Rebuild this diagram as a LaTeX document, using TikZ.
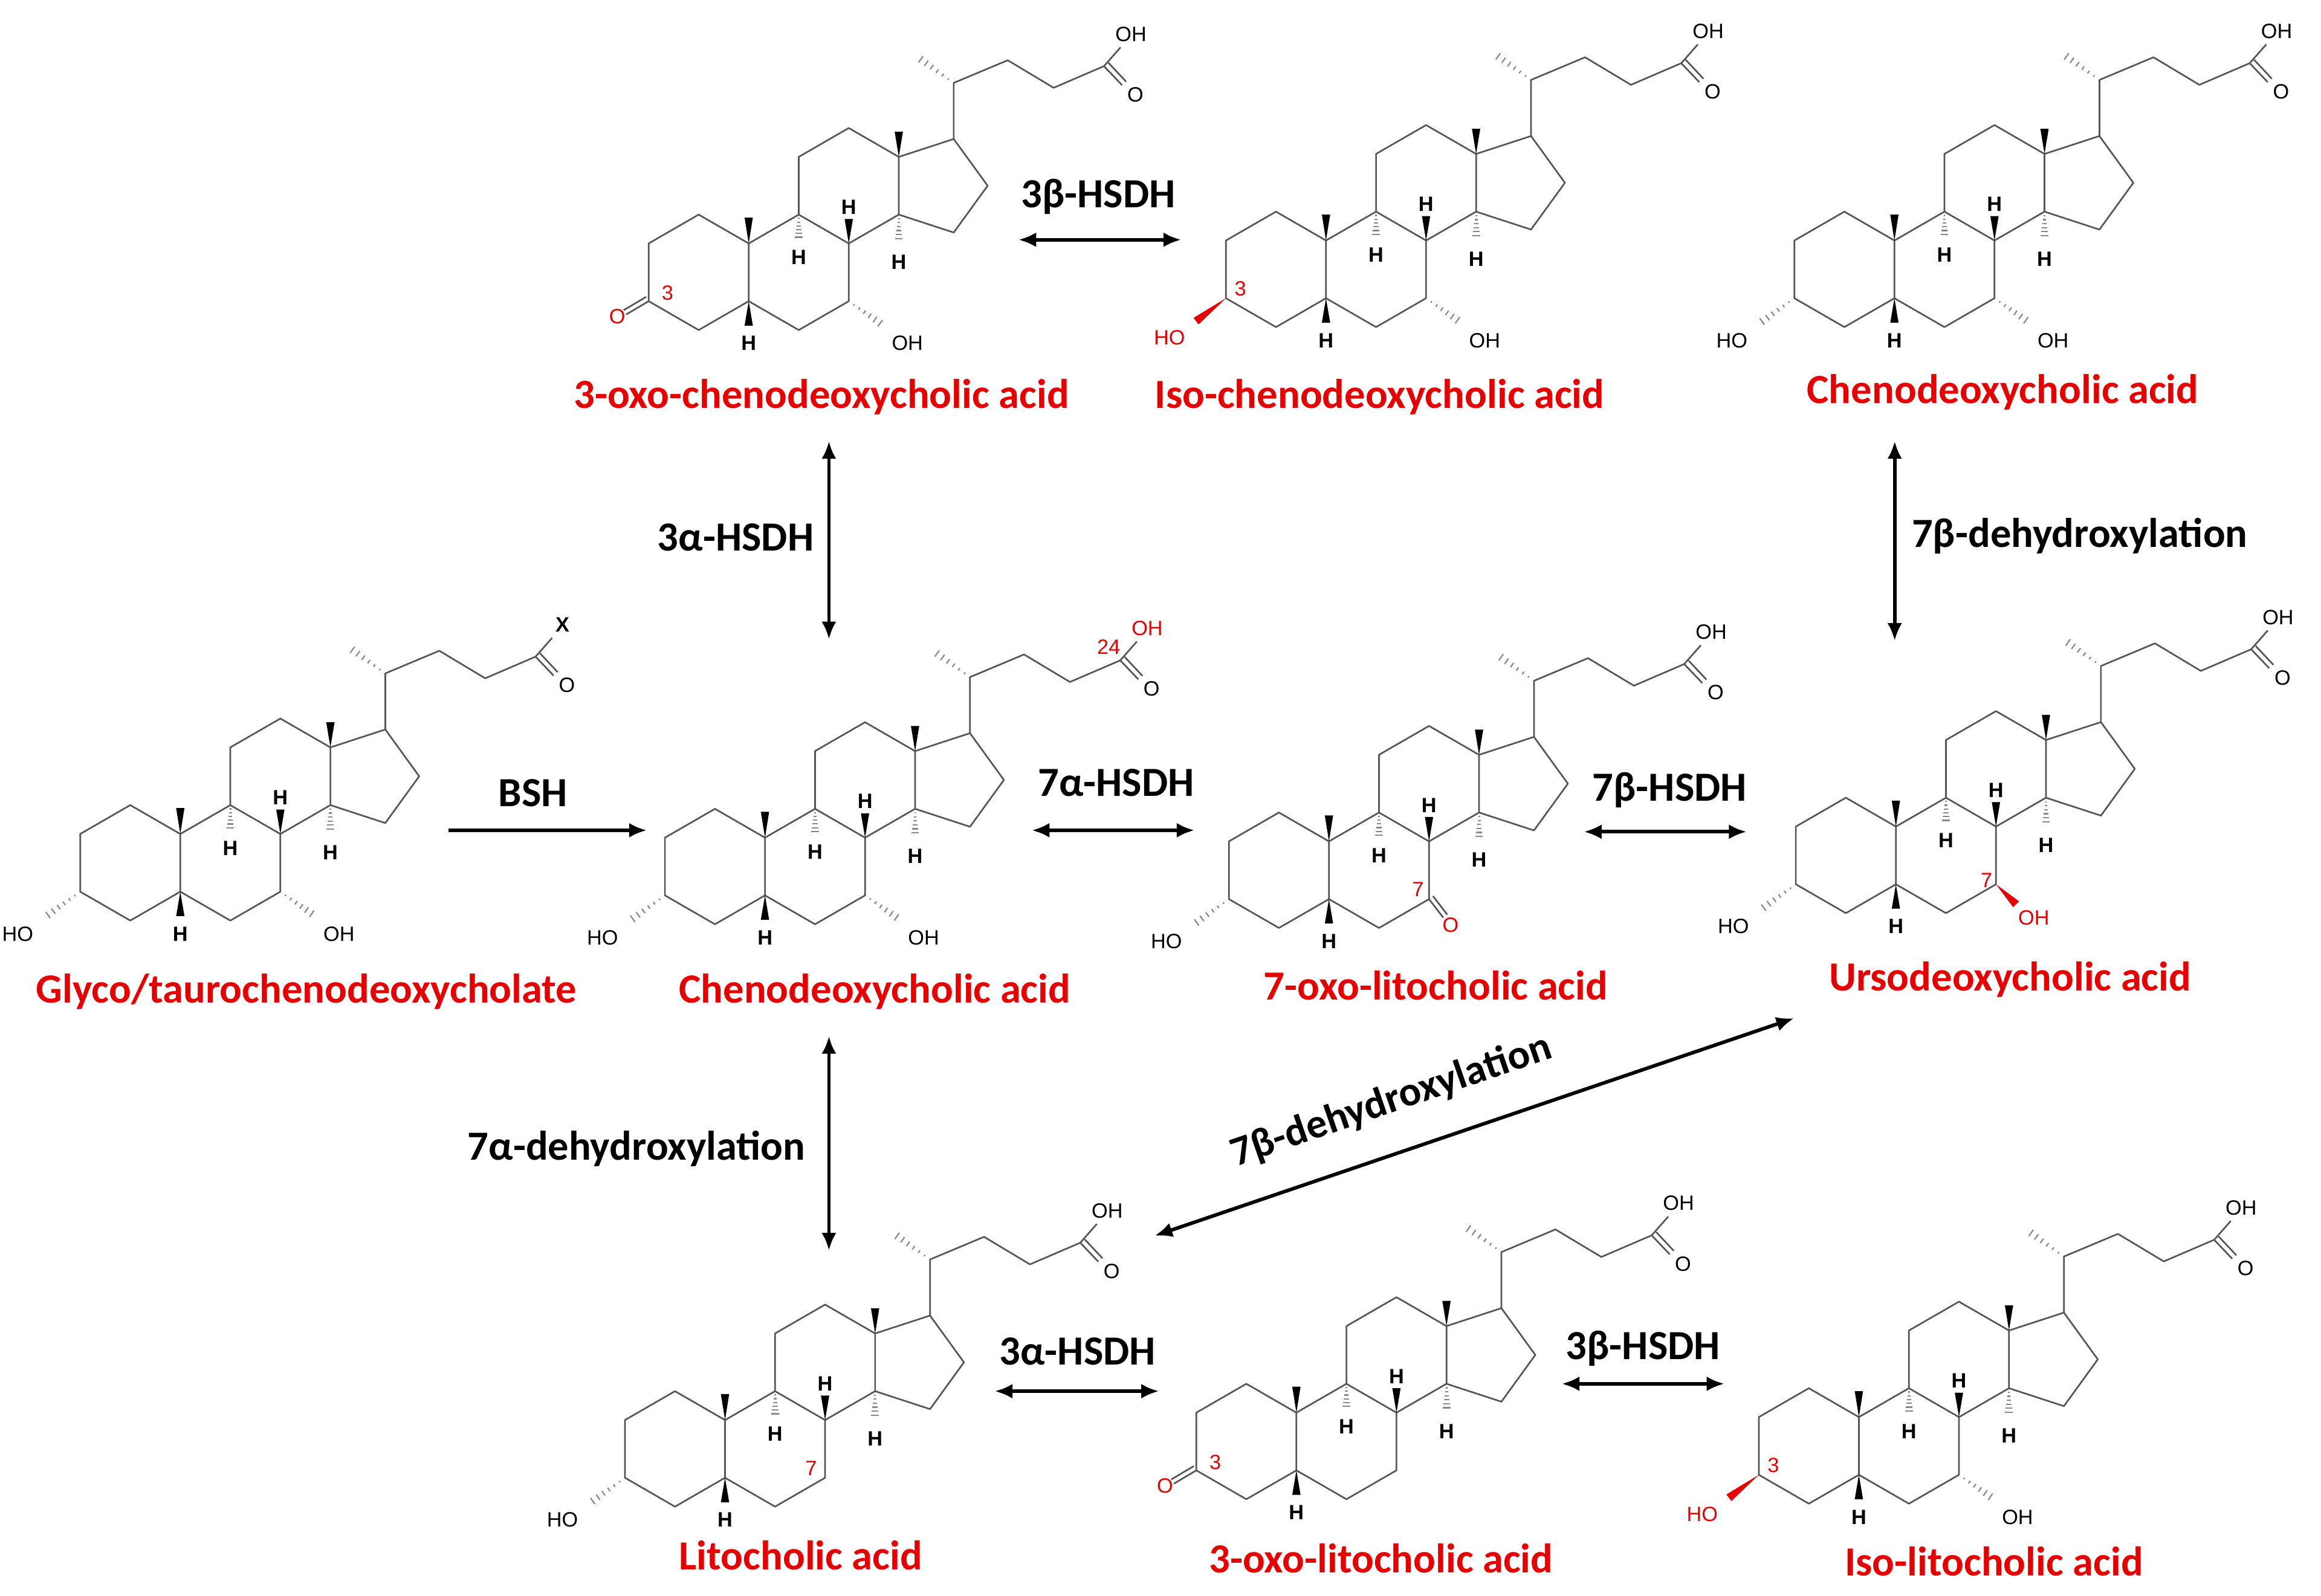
\documentclass[tikz,border=0pt]{standalone}
\usepackage{fontspec}
\setmainfont{Carlito}
\newfontfamily\atomfont{Liberation Sans}
\usetikzlibrary{calc,arrows.meta}
\definecolor{bondc}{RGB}{85,85,85}
\definecolor{redc}{RGB}{230,0,0}
\tikzset{
  bond/.style={draw=bondc,line width=0.55pt,line join=round},
  atom/.style={inner sep=0pt,font=\atomfont\fontsize{7}{8}\selectfont},
  hatom/.style={atom,font=\atomfont\bfseries\fontsize{7}{8}\selectfont},
  ratom/.style={atom,text=redc},
  molname/.style={inner sep=0pt,text=redc,font=\bfseries\fontsize{14}{16}\selectfont},
  enz/.style={inner sep=0pt,font=\bfseries\fontsize{14}{16}\selectfont},
  rx/.style={line width=1.2pt,{Latex[length=6pt,width=5pt]}-{Latex[length=6pt,width=5pt]}},
  rxone/.style={line width=1.2pt,-{Latex[length=6pt,width=5pt]}}
}
% hashed bond from #1 to #2
\newcommand\hashb[2]{%
  \foreach \f/\w in {0.15/0.3,0.3/0.5,0.45/0.7,0.6/0.9,0.75/1.1,0.9/1.3}{%
    \draw[bondc!70,line width=0.45pt] ($(#1)!\f!(#2)!\w pt!90:(#2)$) -- ($(#1)!\f!(#2)!\w pt!-90:(#2)$);}}
% wedge bond from #1 to #2, color #3
\newcommand\wedgeb[3]{%
  \fill[#3] (#1) -- ($(#2)!1.4pt!90:(#1)$) -- ($(#2)!1.4pt!-90:(#1)$) -- cycle;}
% skeleton: x, y, end label
\newcommand\skel[3]{%
\begin{scope}[shift={(#1,#2)}]
 \coordinate (C3) at (-33.8,19.5);
 \coordinate (C7) at (101.4,19.5);
 \draw[bond] (0,-39)--(33.8,-19.5)--(33.8,19.5)--(0,39)--(-33.8,19.5)--(-33.8,-19.5)--cycle;
 \draw[bond] (33.8,19.5)--(67.6,39)--(101.4,19.5)--(101.4,-19.5)--(67.6,-39)--(33.8,-19.5);
 \draw[bond] (67.6,-39)--(67.6,-78)--(101.4,-97.5)--(135.2,-78)--(135.2,-39)--(101.4,-19.5);
 \draw[bond] (135.2,-78)--(172.3,-90.1)--(195.2,-58.5)--(172.3,-26.9)--(135.2,-39);
 \draw[bond] (172.3,-90.1)--(172.3,-128)--(208.8,-143.3)--(239.8,-124.7)--(273.8,-139.3)--(285,-152);
 \draw[bond] (273.8,-139.3)--(286,-126.5);
 \draw[bond] (276.8,-141.6)--(288.8,-128.8);
 \coordinate (C20) at (172.3,-128); \coordinate (M21) at (147.6,-145.7);
 \hashb{C20}{M21}
 \coordinate (C10) at (33.8,-19.5); \coordinate (M19) at (33.8,-37);
 \wedgeb{C10}{M19}{black}
 \coordinate (C13) at (135.2,-78); \coordinate (M18) at (135.2,-95);
 \wedgeb{C13}{M18}{black}
 \coordinate (C9) at (67.6,-39); \coordinate (H9) at (67.6,-22);
 \hashb{C9}{H9} \node[hatom] at (67.6,-10) {H};
 \coordinate (C8) at (101.4,-19.5); \coordinate (H8) at (101.4,-36);
 \wedgeb{C8}{H8}{black} \node[hatom] at (101.4,-44) {H};
 \coordinate (C14) at (135.2,-39); \coordinate (H14) at (135.2,-21);
 \hashb{C14}{H14} \node[hatom] at (135.2,-7) {H};
 \coordinate (C5) at (33.8,19.5); \coordinate (H5) at (33.8,36);
 \wedgeb{C5}{H5}{black} \node[hatom] at (33.8,48) {H};
 \node[atom] at (292,-161) {#3};
 \node[atom] at (295,-120) {O};
\end{scope}}
\newcommand\aOHthree[2]{\begin{scope}[shift={(#1,#2)}]
 \coordinate (T) at (-58,37); \hashb{C3}{T} \node[atom] at (-76,48) {HO};\end{scope}}
\newcommand\bOHthree[2]{\begin{scope}[shift={(#1,#2)}]
 \coordinate (T) at (-54,35); \wedgeb{C3}{T}{redc} \node[ratom] at (-72,46) {HO};
 \node[ratom] at (-24,13) {3};\end{scope}}
\newcommand\oxothree[2]{\begin{scope}[shift={(#1,#2)}]
 \draw[bond] (-33.8,19.5)--(-49,28.5); \draw[bond] (-35.5,16.6)--(-50.7,25.6);
 \node[ratom] at (-55,30) {O}; \node[ratom] at (-21,14) {3};\end{scope}}
\newcommand\aOHseven[2]{\begin{scope}[shift={(#1,#2)}]
 \coordinate (T) at (125,36); \hashb{C7}{T} \node[atom] at (141,48) {OH};\end{scope}}
\newcommand\oxoseven[2]{\begin{scope}[shift={(#1,#2)}]
 \draw[bond] (101.4,19.5)--(111,32); \draw[bond] (104.1,17.5)--(113.7,30);
 \node[ratom] at (116,37) {O}; \node[ratom] at (94,13) {7};\end{scope}}
\newcommand\bOHseven[2]{\begin{scope}[shift={(#1,#2)}]
 \coordinate (T) at (115,33); \wedgeb{C7}{T}{redc} \node[ratom] at (127,42) {OH};
 \node[ratom] at (95,17) {7};\end{scope}}
\begin{document}
\begin{tikzpicture}[x=0.5pt,y=-0.5pt]
\useasboundingbox (0,0) rectangle (1568,1078);
\fill[white] (0,0) rectangle (1568,1078);
% molecules
\skel{472}{184}{OH}\oxothree{472}{184}\aOHseven{472}{184}
\skel{862}{182}{OH}\bOHthree{862}{182}\aOHseven{862}{182}
\skel{1246}{182}{OH}\aOHthree{1246}{182}\aOHseven{1246}{182}
\skel{88}{583}{\bfseries X}\aOHthree{88}{583}\aOHseven{88}{583}
\skel{483}{585.5}{\textcolor{redc}{OH}}\aOHthree{483}{585.5}\aOHseven{483}{585.5}
\node[ratom] at (749,437) {24};
\skel{864}{588}{OH}\aOHthree{864}{588}\oxoseven{864}{588}
\skel{1247}{578}{OH}\aOHthree{1247}{578}\bOHseven{1247}{578}
\skel{456}{979}{OH}\aOHthree{456}{979}\node[ratom] at (548,992) {7};
\skel{842}{974}{OH}\oxothree{842}{974}
\skel{1222}{977}{OH}\bOHthree{1222}{977}\aOHseven{1222}{977}
% names
\node[molname] (n1) at (555,268) {3-oxo-chenodeoxycholic acid};
\node[molname] (n2) at (932,268) {Iso-chenodeoxycholic acid};
\node[molname] (n3) at (1353,265) {Chenodeoxycholic acid};
\node[molname] (n4) at (207,670) {Glyco/taurochenodeoxycholate};
\node[molname] (n5) at (591,670) {Chenodeoxycholic acid};
\node[molname] (n6) at (970,666) {7-oxo-litocholic acid};
\node[molname] (n7) at (1358,662) {Ursodeoxycholic acid};
\node[molname] (n8) at (541,1051) {Litocholic acid};
\node[molname] (n9) at (933,1053) {3-oxo-litocholic acid};
\node[molname] (n10) at (1347,1055) {Iso-litocholic acid};
% arrow end points
\coordinate (a1s) at (688,162); \coordinate (a1e) at (798,162);
\coordinate (a2s) at (560,298); \coordinate (a2e) at (560,432);
\coordinate (a3s) at (1280,298); \coordinate (a3e) at (1280,433);
\coordinate (a4s) at (303,561); \coordinate (a4e) at (437,561);
\coordinate (a5s) at (697,561); \coordinate (a5e) at (807,561);
\coordinate (a6s) at (1070,562); \coordinate (a6e) at (1180,562);
\coordinate (a7s) at (560,700); \coordinate (a7e) at (560,845);
\coordinate (a8s) at (780,835); \coordinate (a8e) at (1212,688);
\coordinate (a9s) at (672,940); \coordinate (a9e) at (783,940);
\coordinate (a10s) at (1055,935); \coordinate (a10e) at (1165,935);
\draw[rx] (a1s) -- (a1e);
\draw[rx] (a2s) -- (a2e);
\draw[rx] (a3s) -- (a3e);
\draw[rxone] (a4s) -- (a4e);
\draw[rx] (a5s) -- (a5e);
\draw[rx] (a6s) -- (a6e);
\draw[rx] (a7s) -- (a7e);
\draw[rx] (a8s) -- (a8e);
\draw[rx] (a9s) -- (a9e);
\draw[rx] (a10s) -- (a10e);
\node[enz] (e1) at (742,133) {3β-HSDH};
\node[enz] (e2) at (497,363) {3α-HSDH};
\node[enz] (e3) at (1405,362) {7β-dehydroxylation};
\node[enz] (e4) at (360,536) {BSH};
\node[enz] (e5) at (754,529) {7α-HSDH};
\node[enz] (e6) at (1128,534) {7β-HSDH};
\node[enz] (e7) at (430,776) {7α-dehydroxylation};
\node[enz,rotate=19] (e8) at (940,744) {7β-dehydroxylation};
\node[enz] (e9) at (728,913) {3α-HSDH};
\node[enz] (e10) at (1110,911) {3β-HSDH};
\end{tikzpicture}
\end{document}
